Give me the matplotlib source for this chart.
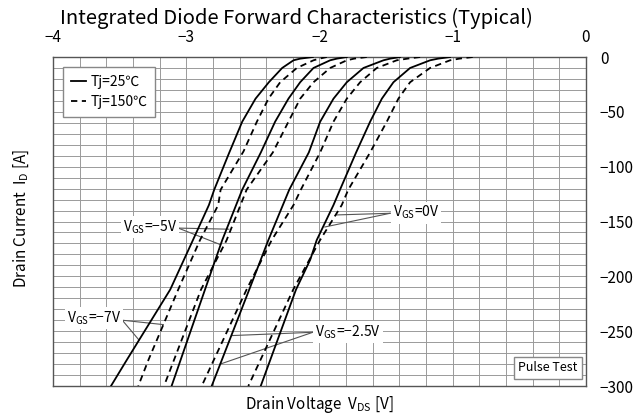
import matplotlib
matplotlib.use('Agg')
import matplotlib.pyplot as plt
from matplotlib.ticker import MultipleLocator

plt.rcParams['font.family'] = ['Noto Sans CJK JP', 'DejaVu Sans']
plt.rcParams['mathtext.fontset'] = 'custom'
plt.rcParams['mathtext.rm'] = 'Noto Sans CJK JP'

# (V_DS [V], I_D [A])
# Tj = 25 C (solid)
s_vgs_m7_v = [-2.05, -2.145, -2.195, -2.28, -2.38, -2.48, -2.58, -2.68, -2.79, -2.83, -2.95, -3.12, -3.445, -3.565]
s_vgs_m7_i = [0, -1.5, -3, -10, -23, -38, -59, -88, -121, -135, -167, -212, -276, -300]
s_vgs_m5_v = [-1.795, -1.87, -1.92, -2.045, -2.145, -2.233, -2.333, -2.44, -2.58, -2.73, -2.859, -3.11]
s_vgs_m5_i = [0, -1.5, -3, -10, -23, -38, -59, -87, -121, -167, -212, -300]
s_vgs_m25_v = [-1.395, -1.47, -1.52, -1.67, -1.795, -1.895, -1.995, -2.08, -2.227, -2.384, -2.527, -2.809]
s_vgs_m25_i = [0, -1.5, -3, -10, -23, -38, -59, -87, -121, -167, -212, -300]
s_vgs_0_v = [-1.02, -1.11, -1.17, -1.32, -1.445, -1.532, -1.62, -1.725, -1.846, -1.895, -2.021, -2.07, -2.176, -2.441]
s_vgs_0_i = [0, -1.5, -3, -10, -23, -38, -59, -87, -121, -135, -167, -185, -212, -300]

# Tj = 150 C (dashed)
d_vgs_m7_v = [-1.945, -2.0, -2.045, -2.17, -2.295, -2.383, -2.47, -2.57, -2.742, -2.76, -2.897, -3.06, -3.283, -3.36]
d_vgs_m7_i = [0, -1.5, -3, -10, -23, -38, -59, -86, -121, -135, -167, -212, -276, -300]
d_vgs_m5_v = [-1.645, -1.74, -1.795, -1.92, -2.045, -2.145, -2.233, -2.35, -2.547, -2.697, -2.889, -3.167]
d_vgs_m5_i = [0, -1.5, -3, -10, -23, -38, -59, -87, -121, -167, -212, -300]
d_vgs_m25_v = [-1.245, -1.34, -1.42, -1.57, -1.695, -1.795, -1.895, -1.995, -2.14, -2.195, -2.359, -2.547, -2.884]
d_vgs_m25_i = [0, -1.5, -3, -10, -23, -38, -59, -87, -121, -135, -167, -212, -300]
d_vgs_0_v = [-0.85, -0.95, -1.02, -1.17, -1.32, -1.408, -1.495, -1.62, -1.784, -1.833, -1.996, -2.197, -2.534]
d_vgs_0_i = [0, -1.5, -3, -10, -23, -38, -59, -87, -121, -135, -167, -212, -300]

x_ticks = [-4, -3, -2, -1, 0]
y_ticks = [0, -50, -100, -150, -200, -250, -300]

fig = plt.figure(figsize=(6.4, 4.17), dpi=100)
ax = fig.add_axes([0.0828, 0.0743, 0.8328, 0.789])

solid = [(s_vgs_m7_v, s_vgs_m7_i), (s_vgs_m5_v, s_vgs_m5_i),
         (s_vgs_m25_v, s_vgs_m25_i), (s_vgs_0_v, s_vgs_0_i)]
dashed = [(d_vgs_m7_v, d_vgs_m7_i), (d_vgs_m5_v, d_vgs_m5_i),
          (d_vgs_m25_v, d_vgs_m25_i), (d_vgs_0_v, d_vgs_0_i)]

for k, (v, i) in enumerate(solid):
    ax.plot(v, i, color='black', lw=1.3, solid_joinstyle='round',
            label='Tj=25℃' if k == 0 else None, zorder=3)
for k, (v, i) in enumerate(dashed):
    ax.plot(v, i, color='black', lw=1.3, ls=(0, (3.5, 2.5)),
            label='Tj=150℃' if k == 0 else None, zorder=3)

ax.set_xlim(-4, 0)
ax.set_ylim(-300, 0)
ax.xaxis.tick_top()
ax.yaxis.tick_right()
ax.set_xticks(x_ticks)
ax.set_xticklabels(['−4', '−3', '−2', '−1', '0'])
ax.set_yticks(y_ticks)
ax.set_yticklabels(['0', '−50', '−100', '−150', '−200', '−250', '−300'])
ax.xaxis.set_minor_locator(MultipleLocator(0.2))
ax.yaxis.set_minor_locator(MultipleLocator(10))
ax.tick_params(which='both', length=0, labelsize=11)
ax.tick_params(axis='x', pad=8)
ax.tick_params(axis='y', pad=10)
ax.grid(which='both', color='#9a9a9a', lw=0.7)
ax.set_axisbelow(True)
for sp in ax.spines.values():
    sp.set_color('#555555')
    sp.set_linewidth(1.0)

fig.text(0.4625, 0.955, 'Integrated Diode Forward Characteristics (Typical)',
         fontsize=14.5, ha='center', va='center')
ax.set_xlabel('Drain Voltage  V$_{\\rm DS}$ [V]', fontsize=11, labelpad=6)
fig.text(0.033, 0.475, 'Drain Current  I$_{\\rm D}$ [A]', rotation=90,
         fontsize=11, ha='center', va='center')

leg = ax.legend(loc='upper left', bbox_to_anchor=(0.006, 0.99), fontsize=10,
                handlelength=1.1, handletextpad=0.3, borderpad=0.55,
                labelspacing=0.45, fancybox=False, framealpha=1)
leg.get_frame().set_edgecolor('#888888')

ax.text(-0.063, -283.5, 'Pulse Test', fontsize=9, ha='right', va='center',
        bbox=dict(boxstyle='square,pad=0.35', fc='white', ec='#888888'))

box = dict(boxstyle='square,pad=0.15', fc='white', ec='none')
lc = '#555555'

# V_GS = -5V
ax.plot([-3.06, -2.68], [-156, -157], color=lc, lw=0.8, zorder=2)
ax.plot([-3.06, -2.745], [-156, -171], color=lc, lw=0.8, zorder=2)
ax.text(-3.07, -155, 'V$_{\\rm GS}$=−5V', fontsize=10, ha='right', va='center', bbox=box, zorder=4)

# V_GS = 0V
ax.plot([-1.47, -1.871], [-142.5, -144], color=lc, lw=0.8, zorder=2)
ax.plot([-1.47, -1.96], [-142.5, -155], color=lc, lw=0.8, zorder=2)
ax.text(-1.45, -142, 'V$_{\\rm GS}$=0V', fontsize=10, ha='left', va='center', bbox=box, zorder=4)

# V_GS = -7V
ax.plot([-3.48, -3.172], [-240, -244], color=lc, lw=0.8, zorder=2)
ax.plot([-3.48, -3.355], [-240, -258], color=lc, lw=0.8, zorder=2)
ax.text(-3.49, -238, 'V$_{\\rm GS}$=−7V', fontsize=10, ha='right', va='center', bbox=box, zorder=4)

# V_GS = -2.5V
ax.plot([-2.05, -2.655], [-251, -254], color=lc, lw=0.8, zorder=2)
ax.plot([-2.05, -2.745], [-251, -280], color=lc, lw=0.8, zorder=2)
ax.text(-2.03, -251, 'V$_{\\rm GS}$=−2.5V', fontsize=10, ha='left', va='center', bbox=box, zorder=4)

fig.savefig('out.png', dpi=100)
